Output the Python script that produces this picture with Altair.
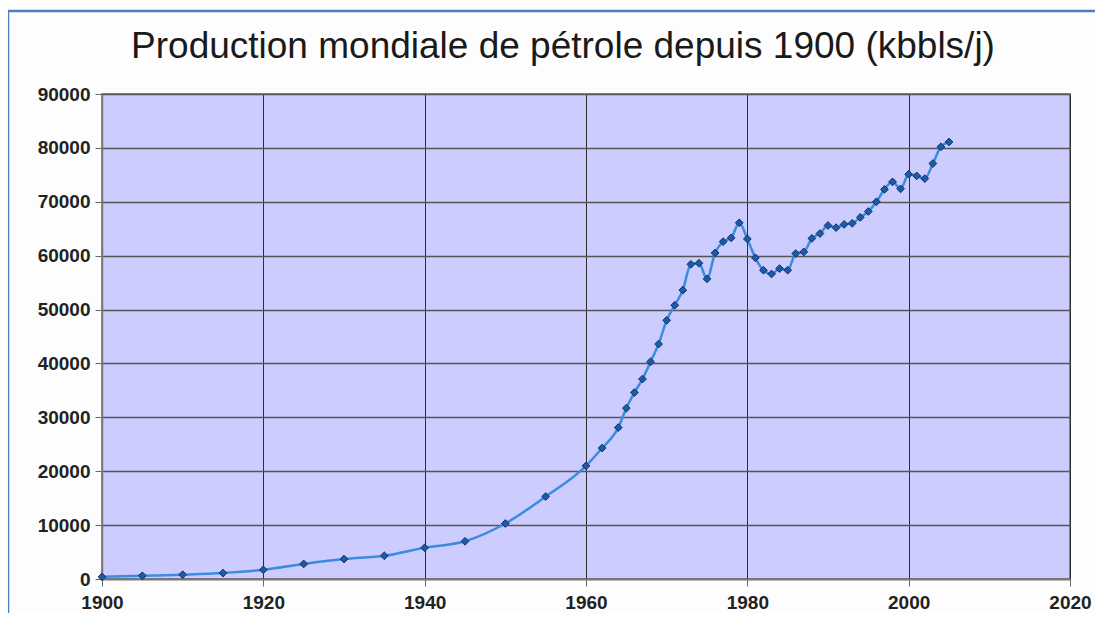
import altair as alt
import pandas as pd

years = [1900, 1905, 1910, 1915, 1920, 1925, 1930, 1935, 1940, 1945, 1950, 1955,
         1960, 1962, 1964, 1965, 1966, 1967, 1968, 1969, 1970, 1971, 1972, 1973,
         1974, 1975, 1976, 1977, 1978, 1979, 1980, 1981, 1982, 1983, 1984, 1985,
         1986, 1987, 1988, 1989, 1990, 1991, 1992, 1993, 1994, 1995, 1996, 1997,
         1998, 1999, 2000, 2001, 2002, 2003, 2004, 2005]
production = [400, 600, 800, 1100, 1700, 2800, 3700, 4300, 5800, 7000, 10300, 15300,
              21000, 24300, 28100, 31700, 34600, 37100, 40300, 43600, 48000, 50800, 53600, 58400,
              58600, 55700, 60500, 62600, 63300, 66100, 63100, 59600, 57300, 56600, 57600, 57300,
              60400, 60700, 63200, 64100, 65600, 65200, 65800, 66000, 67100, 68200, 70000, 72300,
              73700, 72400, 75100, 74800, 74300, 77100, 80200, 81100]

x_ticks = [1900, 1920, 1940, 1960, 1980, 2000, 2020]
y_ticks = [0, 10000, 20000, 30000, 40000, 50000, 60000, 70000, 80000, 90000]

title_text = "Production mondiale de pétrole depuis 1900 (kbbls/j)"

df = pd.DataFrame({"annee": years, "production": production})

x_enc = alt.X("annee:Q", scale=alt.Scale(domain=[1900, 2020], nice=False, zero=False),
              axis=alt.Axis(values=x_ticks, format="d", title=None, grid=True,
                            gridColor="#2e2e2e", gridWidth=1, tickColor="#666666",
                            tickSize=7, domainColor="#777777", domainWidth=1.5,
                            labelFlush=False, labelOverlap=False,
                            labelFont="Liberation Sans", labelFontWeight="bold",
                            labelFontSize=19, labelColor="#222222", labelPadding=7))
y_enc = alt.Y("production:Q", scale=alt.Scale(domain=[0, 90000], nice=False),
              axis=alt.Axis(values=y_ticks, format="d", title=None, grid=True,
                            gridColor="#555555", gridWidth=1.5, tickColor="#666666",
                            tickSize=7, domainColor="#777777", domainWidth=1.5,
                            labelFlush=False, labelOverlap=False,
                            labelFont="Liberation Sans", labelFontWeight="bold",
                            labelFontSize=19, labelColor="#222222", labelPadding=5))

base = alt.Chart(df)

line = base.mark_line(color="#3b8be0", strokeWidth=2.5, interpolate="monotone").encode(x=x_enc, y=y_enc)
points = base.mark_point(shape="diamond", filled=True, size=60, fill="#1e5aa8",
                         stroke="#0f3268", strokeWidth=1, opacity=1).encode(x="annee:Q", y="production:Q")

frame = alt.Chart(pd.DataFrame({"f": [0]})).mark_rect(
    fill=None, fillOpacity=0, stroke="#4a7fc1", strokeWidth=2.5, clip=False
).encode(x=alt.value(-94), y=alt.value(-83), x2=alt.value(1100), y2=alt.value(600))

chart = alt.layer(frame, line, points).properties(
    width=968, height=485,
    autosize=alt.AutoSizeParams(type="none"),
    padding={"left": 94, "top": 86, "right": 25, "bottom": 34},
    title=alt.TitleParams(title_text, font="Liberation Sans", fontSize=37,
                          fontWeight="normal", color="#1a1a1a", anchor="middle",
                          offset=27, dx=-23, dy=83),
).configure(background="#fdfdfd").configure_view(fill="#ccccff", stroke="#666666", strokeWidth=1.5)

chart.save("out.html", embed_options={"renderer": "svg", "actions": False})
